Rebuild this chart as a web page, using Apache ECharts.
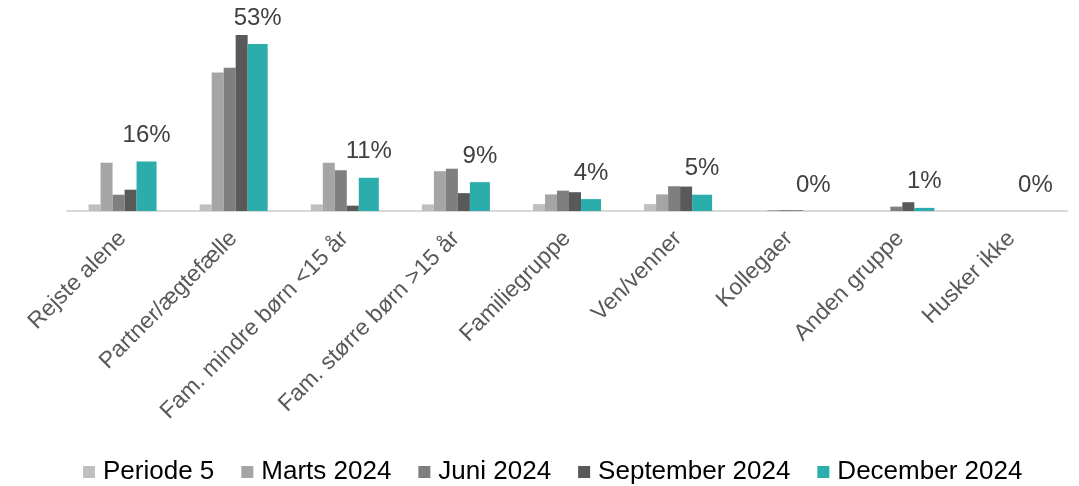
<!DOCTYPE html>
<html>
<head>
<meta charset="utf-8">
<script src="https://cdn.jsdelivr.net/npm/echarts@6/dist/echarts.min.js"></script>
<style>html,body{margin:0;padding:0;background:#fff}#c{width:1079px;height:486px}</style>
</head>
<body>
<div id="c"></div>
<script>
const categories = ["Rejste alene","Partner/ægtefælle","Fam. mindre børn <15 år","Fam. større børn >15 år","Familiegruppe","Ven/venner","Kollegaer","Anden gruppe","Husker ikke"];
const seriesNames = ["Periode 5","Marts 2024","Juni 2024","September 2024","December 2024"];
const periode5 = [2.1, 2.1, 2.1, 2.1, 2.2, 2.2, 0, 0, 0];
const marts2024 = [15.4, 44.2, 15.4, 12.7, 5.3, 5.3, 0.3, 0, 0];
const juni2024 = [5.2, 45.7, 13.0, 13.5, 6.5, 7.9, 0.3, 1.4, 0];
const september2024 = [6.8, 56.2, 1.7, 5.7, 6.0, 7.8, 0.2, 2.8, 0];
const december2024 = [15.8, 53.3, 10.6, 9.2, 3.8, 5.2, 0, 1.0, 0];
const colors = ["#BFBFBF","#A5A5A5","#7F7F7F","#595959","#2AADAB"];
const widths = [12,12,12,12,20];
const allData = [periode5, marts2024, juni2024, september2024, december2024];

const chart = echarts.init(document.getElementById('c'), null, {renderer:'canvas'});
const FONT = 'Liberation Sans, Arial, sans-serif';
chart.setOption({
  animation: false,
  textStyle: {fontFamily: FONT},
  grid: {left: 67, right: 12, top: 23, bottom: 275},
  legend: {
    left: 83, top: 459, padding: 0,
    itemWidth: 12, itemHeight: 12, itemGap: 27,
    icon: 'rect',
    textStyle: {fontSize: 26, color: '#000', fontFamily: FONT, padding: [0,0,0,3]},
    data: seriesNames
  },
  xAxis: {
    type: 'category', data: categories,
    axisLine: {lineStyle: {color: '#D9D9D9', width: 2}},
    axisTick: {show: false},
    axisLabel: {rotate: 45, interval: 0, margin: 24, fontSize: 23, color: '#595959', fontFamily: FONT}
  },
  yAxis: {type: 'value', min: 0, max: 60, show: false, splitLine: {show: false}},
  series: allData.map((d, i) => ({
    name: seriesNames[i], type: 'bar', data: d,
    barWidth: widths[i], barGap: '0%',
    itemStyle: {color: colors[i]},
    label: i === 4 ? {
      show: true, position: 'top', distance: 14, fontSize: 24, color: '#404040', fontFamily: FONT,
      formatter: p => Math.round(p.value) + '%'
    } : {show: false}
  }))
});
</script>
</body>
</html>
